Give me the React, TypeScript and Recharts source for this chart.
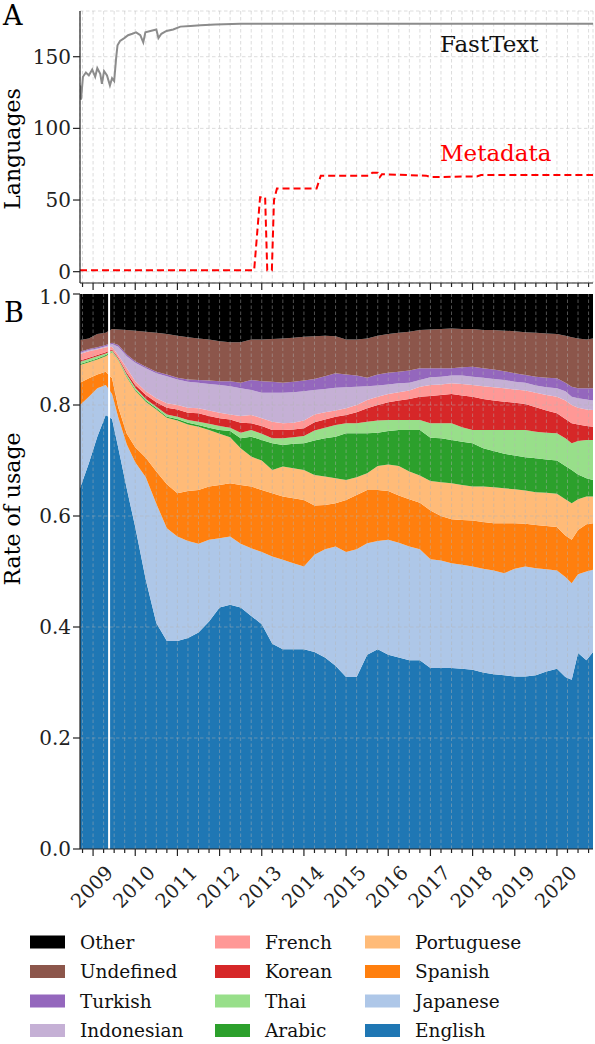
import {
  LineChart,
  Line,
  AreaChart,
  Area,
  XAxis,
  YAxis,
  CartesianGrid,
  ReferenceLine,
} from 'recharts'

// ---- panel A: number of languages detected ----
const ftYears = [
  2008.69, 2008.714, 2008.76, 2008.83, 2008.9, 2008.98, 2009.05, 2009.1, 2009.17, 2009.21,
  2009.26, 2009.33, 2009.4, 2009.45, 2009.5, 2009.55, 2009.58, 2009.64, 2009.74, 2009.83,
  2009.93, 2010.02, 2010.12, 2010.19, 2010.24, 2010.36, 2010.5, 2010.55, 2010.62, 2010.74,
  2010.9, 2011.07, 2011.31, 2011.55, 2011.9, 2012.5, 2013.93, 2016.79, 2020.855,
]
const fastText = [
  130, 120, 136, 139, 137, 141, 136, 142, 138, 131,
  140, 137, 130, 135, 133, 150, 158, 161, 163, 165,
  166, 167, 165, 160, 167, 168, 169, 163, 166, 168,
  169, 171, 171.5, 172, 172.5, 173, 173, 173, 173,
]

const metaYears = [
  2008.69, 2012.82, 2012.9, 2012.96, 2013.08, 2013.13, 2013.24, 2013.29, 2013.36, 2014.3,
  2014.4, 2015.55, 2015.62, 2015.75, 2015.8, 2015.85, 2016.9, 2017.0, 2018.1, 2018.2, 2020.855,
]
const metadata = [
  1, 1, 30, 52, 52, 1, 1, 50, 58, 58,
  67, 67, 69, 69, 66, 68, 67, 66, 66.5, 67.5, 67.5,
]

// ---- panel B: rate of usage per language ----
const years = [
  2008.69, 2008.9, 2009.1, 2009.3, 2009.45, 2009.6, 2009.8, 2010.0, 2010.25, 2010.5,
  2010.75, 2011.0, 2011.25, 2011.5, 2011.75, 2012.0, 2012.25, 2012.5, 2012.75, 2013.0,
  2013.25, 2013.5, 2013.75, 2014.0, 2014.25, 2014.5, 2014.75, 2015.0, 2015.25, 2015.5,
  2015.75, 2016.0, 2016.25, 2016.5, 2016.75, 2017.0, 2017.25, 2017.5, 2017.75, 2018.0,
  2018.25, 2018.5, 2018.75, 2019.0, 2019.25, 2019.5, 2019.75, 2020.0, 2020.2, 2020.35,
  2020.5, 2020.7, 2020.855,
]
const english = [
  0.65, 0.695, 0.743, 0.782, 0.775, 0.722, 0.649, 0.58, 0.485, 0.407,
  0.375, 0.375, 0.38, 0.39, 0.41, 0.435, 0.44, 0.435, 0.42, 0.405,
  0.37, 0.36, 0.36, 0.36, 0.355, 0.345, 0.33, 0.31, 0.31, 0.35,
  0.36, 0.35, 0.345, 0.34, 0.34, 0.326, 0.326, 0.326, 0.325, 0.323,
  0.318, 0.315, 0.313, 0.311, 0.311, 0.313, 0.32, 0.325, 0.31, 0.305,
  0.353, 0.34, 0.355,
]
const japanese = [
  0.15, 0.12, 0.087, 0.054, 0.045, 0.055, 0.08, 0.117, 0.185, 0.215,
  0.203, 0.188, 0.175, 0.16, 0.147, 0.125, 0.123, 0.115, 0.122, 0.13,
  0.157, 0.161, 0.155, 0.149, 0.175, 0.195, 0.215, 0.225, 0.23, 0.201,
  0.195, 0.207, 0.207, 0.205, 0.2, 0.196, 0.194, 0.189, 0.187, 0.186,
  0.187, 0.187, 0.184, 0.194, 0.198, 0.193, 0.184, 0.177, 0.18, 0.174,
  0.142, 0.16, 0.148,
]
const spanish = [
  0.04, 0.033, 0.025, 0.024, 0.028, 0.018, 0.019, 0.027, 0.035, 0.058,
  0.079, 0.078, 0.09, 0.097, 0.096, 0.096, 0.096, 0.106, 0.111, 0.112,
  0.114, 0.114, 0.117, 0.12, 0.089, 0.08, 0.078, 0.094, 0.098, 0.096,
  0.092, 0.088, 0.085, 0.085, 0.084, 0.088, 0.08, 0.079, 0.081, 0.083,
  0.084, 0.085, 0.09, 0.082, 0.077, 0.078, 0.078, 0.078, 0.075, 0.078,
  0.08, 0.085, 0.084,
]
const portuguese = [
  0.032, 0.029, 0.027, 0.028, 0.047, 0.085, 0.102, 0.102, 0.101, 0.112,
  0.12, 0.131, 0.12, 0.114, 0.102, 0.092, 0.083, 0.066, 0.054, 0.053,
  0.042, 0.054, 0.054, 0.054, 0.055, 0.051, 0.045, 0.036, 0.032, 0.03,
  0.043, 0.048, 0.053, 0.05, 0.049, 0.053, 0.061, 0.065, 0.063, 0.061,
  0.064, 0.065, 0.063, 0.061, 0.06, 0.059, 0.06, 0.06, 0.065, 0.066,
  0.055, 0.05, 0.048,
]
const arabic = [
  0.002, 0.002, 0.002, 0.002, 0.001, 0.001, 0.002, 0.002, 0.002, 0.002,
  0.002, 0.003, 0.003, 0.003, 0.004, 0.007, 0.011, 0.018, 0.036, 0.037,
  0.048, 0.039, 0.044, 0.048, 0.062, 0.069, 0.075, 0.084, 0.079, 0.072,
  0.06, 0.06, 0.065, 0.075, 0.082, 0.078, 0.079, 0.078, 0.078, 0.078,
  0.069, 0.065, 0.062, 0.061, 0.06, 0.061, 0.06, 0.06, 0.06, 0.06,
  0.045, 0.033, 0.03,
]
const thai = [
  0.004, 0.004, 0.004, 0.003, 0.002, 0.002, 0.003, 0.003, 0.003, 0.003,
  0.004, 0.004, 0.005, 0.006, 0.007, 0.007, 0.006, 0.01, 0.012, 0.011,
  0.009, 0.012, 0.012, 0.013, 0.018, 0.019, 0.021, 0.018, 0.018, 0.021,
  0.022, 0.02, 0.018, 0.018, 0.018, 0.026, 0.027, 0.03, 0.026, 0.024,
  0.033, 0.038, 0.043, 0.046, 0.049, 0.048, 0.048, 0.049, 0.05, 0.048,
  0.06, 0.069, 0.072,
]
const korean = [
  0.002, 0.002, 0.002, 0.002, 0.002, 0.002, 0.003, 0.005, 0.007, 0.008,
  0.012, 0.013, 0.013, 0.015, 0.014, 0.014, 0.015, 0.018, 0.012, 0.014,
  0.015, 0.015, 0.014, 0.014, 0.015, 0.015, 0.015, 0.015, 0.02, 0.024,
  0.028, 0.032, 0.035, 0.038, 0.042, 0.049, 0.051, 0.053, 0.057, 0.06,
  0.056, 0.053, 0.051, 0.049, 0.047, 0.044, 0.04, 0.036, 0.035, 0.036,
  0.03, 0.025, 0.024,
]
const french = [
  0.012, 0.012, 0.01, 0.009, 0.005, 0.004, 0.008, 0.007, 0.007, 0.007,
  0.008, 0.008, 0.009, 0.009, 0.01, 0.01, 0.009, 0.012, 0.015, 0.014,
  0.015, 0.012, 0.012, 0.014, 0.014, 0.013, 0.011, 0.012, 0.013, 0.015,
  0.015, 0.015, 0.015, 0.015, 0.018, 0.02, 0.019, 0.019, 0.021, 0.021,
  0.023, 0.024, 0.024, 0.024, 0.024, 0.026, 0.028, 0.03, 0.033, 0.033,
  0.03, 0.03, 0.03,
]
const indonesian = [
  0.002, 0.002, 0.002, 0.002, 0.005, 0.016, 0.022, 0.033, 0.041, 0.045,
  0.049, 0.046, 0.047, 0.046, 0.048, 0.05, 0.051, 0.05, 0.045, 0.046,
  0.052, 0.055, 0.055, 0.053, 0.044, 0.042, 0.041, 0.038, 0.033, 0.025,
  0.02, 0.017, 0.016, 0.014, 0.012, 0.014, 0.014, 0.014, 0.015, 0.015,
  0.015, 0.015, 0.015, 0.014, 0.014, 0.013, 0.014, 0.015, 0.017, 0.015,
  0.017, 0.018, 0.017,
]
const turkish = [
  0.002, 0.002, 0.002, 0.002, 0.002, 0.003, 0.003, 0.003, 0.003, 0.003,
  0.003, 0.003, 0.004, 0.005, 0.006, 0.007, 0.009, 0.01, 0.018, 0.021,
  0.02, 0.018, 0.019, 0.019, 0.02, 0.023, 0.026, 0.023, 0.02, 0.015,
  0.02, 0.021, 0.021, 0.022, 0.021, 0.016, 0.015, 0.013, 0.015, 0.018,
  0.017, 0.017, 0.016, 0.015, 0.014, 0.016, 0.017, 0.018, 0.015, 0.018,
  0.018, 0.02, 0.022,
]
const undefinedLang = [
  0.021, 0.019, 0.024, 0.022, 0.025, 0.028, 0.044, 0.055, 0.063, 0.07,
  0.073, 0.076, 0.076, 0.075, 0.074, 0.072, 0.07, 0.073, 0.073, 0.075,
  0.077, 0.08, 0.079, 0.079, 0.077, 0.073, 0.067, 0.063, 0.065, 0.071,
  0.07, 0.07, 0.07, 0.07, 0.069, 0.07, 0.071, 0.072, 0.069, 0.068,
  0.069, 0.071, 0.073, 0.076, 0.077, 0.079, 0.08, 0.08, 0.085, 0.089,
  0.09, 0.088, 0.09,
]
const other = [
  0.083, 0.08, 0.072, 0.07, 0.063, 0.064, 0.065, 0.066, 0.068, 0.07,
  0.072, 0.075, 0.078, 0.08, 0.082, 0.085, 0.087, 0.087, 0.082, 0.082,
  0.081, 0.08, 0.079, 0.077, 0.076, 0.075, 0.076, 0.082, 0.082, 0.08,
  0.075, 0.072, 0.07, 0.068, 0.065, 0.064, 0.063, 0.062, 0.063, 0.063,
  0.065, 0.065, 0.066, 0.067, 0.069, 0.07, 0.071, 0.072, 0.075, 0.078,
  0.08, 0.082, 0.08,
]

// stacking order, bottom to top
const series = [
  { key: 'english', name: 'English', color: '#1f77b4', values: english },
  { key: 'japanese', name: 'Japanese', color: '#aec7e8', values: japanese },
  { key: 'spanish', name: 'Spanish', color: '#ff7f0e', values: spanish },
  { key: 'portuguese', name: 'Portuguese', color: '#ffbb78', values: portuguese },
  { key: 'arabic', name: 'Arabic', color: '#2ca02c', values: arabic },
  { key: 'thai', name: 'Thai', color: '#98df8a', values: thai },
  { key: 'korean', name: 'Korean', color: '#d62728', values: korean },
  { key: 'french', name: 'French', color: '#ff9896', values: french },
  { key: 'indonesian', name: 'Indonesian', color: '#c5b0d5', values: indonesian },
  { key: 'turkish', name: 'Turkish', color: '#9467bd', values: turkish },
  { key: 'undefined', name: 'Undefined', color: '#8c564b', values: undefinedLang },
  { key: 'other', name: 'Other', color: '#000000', values: other },
]

const legendColumns = [
  ['Other', 'Undefined', 'Turkish', 'Indonesian'],
  ['French', 'Korean', 'Thai', 'Arabic'],
  ['Portuguese', 'Spanish', 'Japanese', 'English'],
]

const yearLabels = [2009, 2010, 2011, 2012, 2013, 2014, 2015, 2016, 2017, 2018, 2019, 2020]
const quarterTicks = [2008.75, ...yearLabels.flatMap((y) => [y, y + 0.25, y + 0.5, y + 0.75])]
const usageTicks = [0, 0.2, 0.4, 0.6, 0.8, 1.0]
const langTicks = [0, 50, 100, 150]
const gapYear = 2009.38

const usage = years.map((t, i) => {
  const row: Record<string, number> = { t }
  series.forEach((s) => (row[s.key] = s.values[i]))
  return row
})
const ftData = ftYears.map((t, i) => ({ t, v: fastText[i] }))
const metaData = metaYears.map((t, i) => ({ t, v: metadata[i] }))

const FONT = 'DejaVu Serif'
const INK = '#222'
const X_DOMAIN: [number, number] = [2008.69, 2020.855]
const gridStroke = { stroke: '#b4b4b4', strokeOpacity: 0.45, strokeDasharray: '3.5 2.5' }

function QuarterTick(props: any) {
  const { x, y, payload, labels } = props
  const major = Math.abs(payload.value - Math.round(payload.value)) < 1e-6
  const cy = y + 38
  return (
    <g>
      <line x1={x} y1={y} x2={x} y2={y + (major ? 7 : 4)} stroke={INK} strokeWidth={1.2} />
      {labels && major && (
        <text
          x={x - 1}
          y={cy}
          transform={`rotate(-45 ${x - 1} ${cy})`}
          textAnchor="middle"
          dominantBaseline="central"
          fontSize={19.5}
          fontFamily={FONT}
          fill={INK}
        >
          {Math.round(payload.value)}
        </text>
      )}
    </g>
  )
}

const yTick = { fontSize: 20, fill: INK, fontFamily: FONT }

export default function App() {
  return (
    <div style={{ position: 'absolute', left: 0, top: 0, width: 595, height: 1044, background: '#fff', fontFamily: FONT }}>
      <div style={{ position: 'absolute', left: 0, top: 0 }}>
        <LineChart width={595} height={290} margin={{ top: 11, right: 2, left: 0, bottom: 0 }}>
          <CartesianGrid {...gridStroke} stroke="#b4b4b4" />
          <XAxis
            dataKey="t"
            type="number"
            domain={X_DOMAIN}
            allowDataOverflow
            ticks={quarterTicks}
            interval={0}
            height={7}
            tickSize={0}
            tickMargin={0}
            tickLine={false}
            tick={<QuarterTick labels={false} />}
            axisLine={{ stroke: INK, strokeWidth: 1.2 }}
          />
          <XAxis xAxisId="top" orientation="top" type="number" domain={X_DOMAIN} height={0} tick={false} tickLine={false} axisLine={{ stroke: INK, strokeWidth: 1.2 }} />
          <YAxis
            type="number"
            domain={[-7.9, 181.9]}
            allowDataOverflow
            ticks={langTicks}
            width={80}
            tickSize={7}
            tick={yTick}
            tickLine={{ stroke: INK, strokeWidth: 1.2 }}
            axisLine={{ stroke: INK, strokeWidth: 1.2 }}
          />
          <YAxis yAxisId="right" orientation="right" width={0} tick={false} tickLine={false} axisLine={{ stroke: INK, strokeWidth: 1.2 }} />
          <Line data={ftData} dataKey="v" type="linear" stroke="#8c8c8c" strokeWidth={2} dot={false} activeDot={false} isAnimationActive={false} />
          <Line data={metaData} dataKey="v" type="linear" stroke="#ff0000" strokeWidth={2} strokeDasharray="7 4" dot={false} activeDot={false} isAnimationActive={false} />
          <text x={3} y={25} fontSize={27} fontFamily={FONT} fill="#000">A</text>
          <text x={20} y={149} transform="rotate(-90 20 149)" textAnchor="middle" fontSize={22} fontFamily={FONT} fill="#000">Languages</text>
          <text x={440} y={52} fontSize={23} fontFamily={FONT} fill="#111">FastText</text>
          <text x={440} y={161} fontSize={23} fontFamily={FONT} fill="#ff0000">Metadata</text>
        </LineChart>
      </div>

      <div style={{ position: 'absolute', left: 0, top: 285 }}>
        <AreaChart width={595} height={644} data={usage} stackOffset="expand" margin={{ top: 9, right: 2, left: 0, bottom: 0 }}>
          <XAxis
            dataKey="t"
            type="number"
            domain={X_DOMAIN}
            allowDataOverflow
            ticks={quarterTicks}
            interval={0}
            height={80}
            tickSize={0}
            tickMargin={0}
            tickLine={false}
            tick={<QuarterTick labels />}
            axisLine={{ stroke: INK, strokeWidth: 1.2 }}
          />
          <YAxis
            type="number"
            domain={[0, 1]}
            ticks={usageTicks}
            width={80}
            tickSize={7}
            tick={yTick}
            tickFormatter={(v: number) => v.toFixed(1)}
            tickLine={{ stroke: INK, strokeWidth: 1.2 }}
            axisLine={{ stroke: INK, strokeWidth: 1.2 }}
          />
          {series.map((s) => (
            <Area
              key={s.key}
              dataKey={s.key}
              name={s.name}
              stackId="usage"
              type="linear"
              stroke="none"
              fill={s.color}
              fillOpacity={1}
              dot={false}
              activeDot={false}
              isAnimationActive={false}
            />
          ))}
          {quarterTicks.map((q) => (
            <ReferenceLine key={`v${q}`} x={q} {...gridStroke} strokeWidth={1} />
          ))}
          {usageTicks.slice(1, 5).map((u) => (
            <ReferenceLine key={`h${u}`} y={u} {...gridStroke} strokeWidth={1} />
          ))}
          <ReferenceLine x={gapYear} stroke="#ffffff" strokeWidth={2} />
          <XAxis xAxisId="top" orientation="top" type="number" domain={X_DOMAIN} height={0} tick={false} tickLine={false} axisLine={{ stroke: INK, strokeWidth: 1.2 }} />
          <YAxis yAxisId="right" orientation="right" width={0} tick={false} tickLine={false} axisLine={{ stroke: INK, strokeWidth: 1.2 }} />
          <text x={4} y={37} fontSize={27} fontFamily={FONT} fill="#000">B</text>
          <text x={20} y={224} transform="rotate(-90 20 224)" textAnchor="middle" fontSize={22} fontFamily={FONT} fill="#000">Rate of usage</text>
        </AreaChart>
      </div>

      <svg width={595} height={134} style={{ position: 'absolute', left: 0, top: 910 }}>
        {legendColumns.map((col, ci) =>
          col.map((name, ri) => {
            const s = series.find((d) => d.name === name)!
            const sx = [30, 215, 365][ci]
            const cy = 32 + ri * 29.5
            return (
              <g key={name}>
                <rect x={sx} y={cy - 6.5} width={35} height={13} fill={s.color} />
                <text x={sx + 50} y={cy} dominantBaseline="central" fontSize={18.5} fontFamily={FONT} fill="#111">
                  {name}
                </text>
              </g>
            )
          })
        )}
      </svg>
    </div>
  )
}
